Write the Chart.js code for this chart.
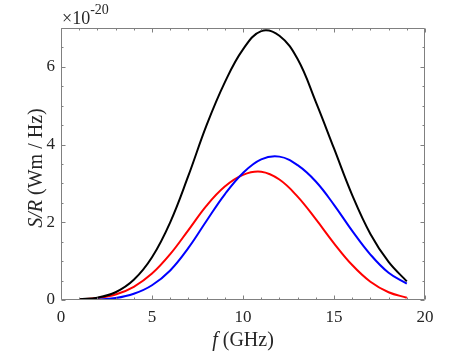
<!DOCTYPE html>
<html><head><meta charset="utf-8">
<script src="https://cdn.jsdelivr.net/npm/chart.js@4/dist/chart.umd.min.js"></script>
<style>html,body{margin:0;padding:0;background:#fff}#wrap{width:469px;height:352px;position:relative}</style>
</head><body><div id="wrap"><canvas id="c" width="469" height="352"></canvas></div>
<script>
// Data (values in units of 1e-20 Wm/Hz)
const freqGHz = [1,2,3,4,5,6,7,8,9,10,11,12,13,14,15,16,17,18,19];
const seriesBlack = [0.02,0.06,0.2,0.52,1.1,2.0,3.2,4.5,5.6,6.45,6.92,6.8,6.2,5.1,3.9,2.7,1.7,0.98,0.48];
const seriesBlue  = [0.0,0.01,0.05,0.16,0.38,0.76,1.34,2.04,2.72,3.27,3.62,3.69,3.47,3.05,2.45,1.78,1.17,0.7,0.42];
const seriesRed   = [0.02,0.05,0.14,0.34,0.68,1.18,1.8,2.43,2.92,3.22,3.30,3.1,2.66,2.08,1.46,0.9,0.47,0.2,0.06];
const xTickValues = [0,5,10,15,20];
const yTickValues = [0,2,4,6];
const xMinorTicks = [1,2,3,4,6,7,8,9,11,12,13,14,16,17,18,19];
const yMinorTicks = [0.5,1,1.5,2.5,3,3.5,4.5,5,5.5,6.5];
const xTitleItalic = 'f', xTitleRest = ' (GHz)';
const yTitleItalic = 'S/R', yTitleRest = ' (Wm / Hz)';
const multBase = '\u00d710', multExp = '-20';

const SERIF = '"Liberation Serif","Times New Roman",serif';
const AX = '#808080', TXT = '#262626';

function pts(ys){ return freqGHz.map((x,i)=>({x:x,y:ys[i]})); }

const decor = {
  id:'decor',
  afterDraw(chart){
    const ctx = chart.ctx, ca = chart.chartArea, xs = chart.scales.x, ys = chart.scales.y;
    ctx.save();
    ctx.strokeStyle = AX; ctx.lineWidth = 1;
    const L = Math.round(ca.left)+0.5, R = Math.round(ca.right)-0.5, T = Math.round(ca.top)+0.5, B = Math.round(ca.bottom)-0.5;
    ctx.beginPath(); ctx.rect(L,T,R-L,B-T); ctx.stroke();
    ctx.beginPath();
    const xt = (v,len)=>{ const p = Math.round(xs.getPixelForValue(v))+0.5; ctx.moveTo(p,B); ctx.lineTo(p,B-len); ctx.moveTo(p,T); ctx.lineTo(p,T+len); };
    const yt = (v,len)=>{ const p = Math.round(ys.getPixelForValue(v))+0.5; ctx.moveTo(L,p); ctx.lineTo(L+len,p); ctx.moveTo(R,p); ctx.lineTo(R-len,p); };
    xTickValues.forEach(v=>xt(v,4)); xMinorTicks.forEach(v=>xt(v,2));
    yTickValues.forEach(v=>yt(v,4)); yMinorTicks.forEach(v=>yt(v,2)); yt(7,4);
    ctx.stroke();
    ctx.fillStyle = TXT;
    // x title
    ctx.textBaseline = 'alphabetic';
    ctx.font = 'italic 20px '+SERIF; const w1 = ctx.measureText(xTitleItalic).width;
    ctx.font = '20px '+SERIF; const w2 = ctx.measureText(xTitleRest).width;
    let cx = (ca.left+ca.right)/2 - (w1+w2)/2;
    ctx.font = 'italic 20px '+SERIF; ctx.textAlign='left'; ctx.fillText(xTitleItalic, cx, 346);
    ctx.font = '20px '+SERIF; ctx.fillText(xTitleRest, cx+w1, 346);
    // y title
    ctx.save();
    ctx.translate(42, (ca.top+ca.bottom)/2+4); ctx.rotate(-Math.PI/2);
    ctx.font = 'italic 20px '+SERIF; const v1 = ctx.measureText(yTitleItalic).width;
    ctx.font = '20px '+SERIF; const v2 = ctx.measureText(yTitleRest).width;
    let sx = -(v1+v2)/2;
    ctx.font = 'italic 20px '+SERIF; ctx.fillText(yTitleItalic, sx, 0);
    ctx.font = '20px '+SERIF; ctx.fillText(yTitleRest, sx+v1, 0);
    ctx.restore();
    // multiplier
    ctx.font = '18px '+SERIF; ctx.fillText(multBase, ca.left+1, 24);
    const mw = ctx.measureText(multBase).width;
    ctx.font = '14px '+SERIF; ctx.fillText(multExp, ca.left+1+mw, 14);
    ctx.restore();
  }
};

new Chart(document.getElementById('c'), {
  type:'line',
  data:{ datasets:[
    {data:pts(seriesBlack), borderColor:'#000000', borderWidth:2, pointRadius:0, tension:0.4, fill:false},
    {data:pts(seriesBlue), borderColor:'#0000ff', borderWidth:2, pointRadius:0, tension:0.4, fill:false},
    {data:pts(seriesRed), borderColor:'#ff0000', borderWidth:2, pointRadius:0, tension:0.4, fill:false}
  ]},
  options:{
    responsive:false, animation:false, devicePixelRatio:1,
    layout:{padding:{left:0, top:28, right:44, bottom:0}},
    plugins:{legend:{display:false}, tooltip:{enabled:false}},
    scales:{
      x:{type:'linear', min:0, max:20,
        afterBuildTicks(s){ s.ticks = xTickValues.map(v=>({value:v})); },
        afterFit(s){ s.height = 52; },
        ticks:{font:{family:SERIF,size:17}, color:TXT, padding:7, maxRotation:0},
        grid:{display:false, drawTicks:false}, border:{display:false}},
      y:{type:'linear', min:0, max:7,
        afterBuildTicks(s){ s.ticks = yTickValues.map(v=>({value:v})); },
        afterFit(s){ s.width = 61; },
        ticks:{font:{family:SERIF,size:17}, color:TXT, padding:6},
        grid:{display:false, drawTicks:false}, border:{display:false}}
    }
  },
  plugins:[decor]
});
</script></body></html>
